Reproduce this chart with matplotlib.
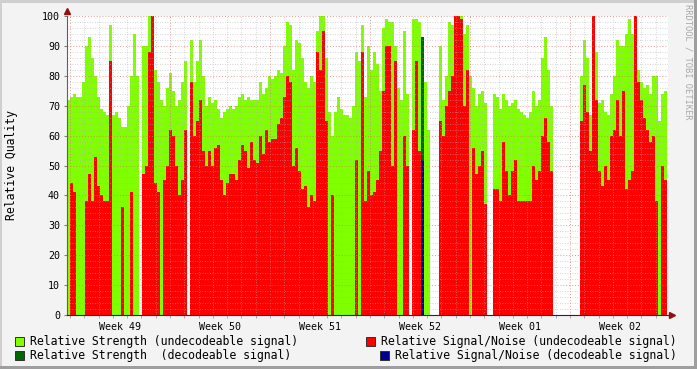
import numpy as np
import matplotlib
matplotlib.use("Agg")
import matplotlib.pyplot as plt
from matplotlib.patches import Rectangle

nan = np.nan

# relative strength, undecodeable signal (%), one value per ~5 hour step
strength_undec = [
    72, 73, 74, 73, 73, 78, 90, 93, 86, 80, 73, 69, 68, 67, 97, 67, 68, 66, 63, 63,
    70, 80, 94, 80, nan, 90, 90, 100, 95, 82, 78, 72, 70, 76, 81, 75, 70, 72, 78, 85,
    nan, 92, 78, 85, 92, 80, 70, 73, 71, 72, 69, 66, 68, 69, 70, 69, 70, 73, 74, 72,
    73, 72, 72, 72, 78, 74, 76, 80, 79, 80, 82, 81, 90, 98, 97, 82, 92, 91, 86, 78,
    76, 80, 78, 95, 100, 100, 86, 68, 60, 68, 73, 69, 67, 67, 66, 70, 88, 85, 97, 73,
    90, 82, 88, 84, 75, 96, 99, 98, 98, 90, 76, 72, 95, 74, nan, 99, 99, 98, 88, 78,
    62, nan, nan, nan, 90, 72, 80, 98, 97, 100, 100, 100, 94, 97, 80, 76, 70, 74, 75, 71,
    nan, nan, 74, 73, 69, 74, 72, 70, 71, 72, 69, 68, 67, 66, 68, 75, 70, 72, 86, 93,
    82, 70, nan, nan, nan, nan, nan, nan, nan, nan, nan, 80, 92, 86, 67, 85, 88, 71, 72, 68,
    67, 74, 80, 92, 90, 90, 94, 99, 94, 82, 82, 78, 76, 77, 74, 80, 80, 65, 74, 75,
]

# relative signal/noise, undecodeable signal (%)
snr_undec = [
    0, 44, 41, 0, 0, 0, 38, 47, 38, 53, 43, 40, 38, 38, 85, 0, 0, 0, 36, 0,
    0, 41, 0, 0, nan, 47, 50, 88, 100, 44, 41, 0, 45, 50, 62, 60, 50, 40, 45, 62,
    nan, 78, 60, 65, 72, 55, 50, 55, 50, 56, 57, 45, 40, 44, 47, 47, 45, 52, 57, 55,
    49, 58, 52, 51, 60, 54, 62, 58, 59, 59, 64, 66, 73, 80, 78, 50, 56, 48, 42, 43,
    36, 40, 38, 88, 82, 95, 65, 0, 40, 0, 0, 0, 0, 0, 0, 0, 52, 0, 88, 38,
    48, 40, 41, 45, 55, 75, 90, 90, 50, 85, 0, 0, 60, 50, nan, 62, 85, 55, 0, 0,
    0, nan, nan, nan, 65, 60, 70, 75, 80, 100, 100, 99, 70, 82, 0, 56, 47, 50, 55, 37,
    nan, nan, 42, 42, 38, 58, 48, 40, 48, 52, 38, 38, 38, 38, 38, 50, 45, 48, 60, 66,
    58, 48, nan, nan, nan, nan, nan, nan, nan, nan, nan, 65, 77, 68, 55, 100, 72, 48, 43, 50,
    45, 60, 62, 72, 60, 75, 42, 45, 48, 100, 78, 72, 66, 62, 58, 60, 38, 0, 50, 45,
]

# decodeable signal: only one short burst in week 52
strength_dec = [0] * 118 + [93] + [0] * 81
snr_dec = [0] * 118 + [52] + [0] * 81

week_labels = ["Week 49", "Week 50", "Week 51", "Week 52", "Week 01", "Week 02"]

step_days = 0.21      # width of one sample
week_start = 0.21     # first monday after the left edge
span_days = 42.07

W, H = 697, 369
MONO = "DejaVu Sans Mono"

fig = plt.figure(figsize=(W / 100, H / 100), dpi=100)
fig.patch.set_facecolor("#F3F3F3")

# rrdtool style 3d border
def px_rect(x, y, w, h, color):
    fig.patches.append(Rectangle((x / W, 1 - (y + h) / H), w / W, h / H,
                                 transform=fig.transFigure, facecolor=color,
                                 edgecolor="none", zorder=0))

px_rect(0, 0, W, 3, "#CFCFCF")
px_rect(0, 0, 2, H, "#CFCFCF")
px_rect(0, H - 3, W, 3, "#9E9E9E")
px_rect(W - 3, 0, 3, H, "#9E9E9E")

ax = fig.add_axes([67 / W, 1 - 315 / H, 601 / W, 299 / H])
ax.set_facecolor("white")

n = len(strength_undec)
x = np.arange(n) * step_days

def draw(vals, color, z):
    v = np.nan_to_num(np.array(vals, dtype=float))
    ax.bar(x, v, width=step_days, align="edge", color=color, linewidth=0,
           antialiased=False, zorder=z)

draw(strength_undec, "#80FF00", 1)
draw(snr_undec, "#FF0000", 2)
draw(strength_dec, "#006600", 3)
draw(snr_dec, "#000090", 4)

ax.set_xlim(0, span_days)
ax.set_ylim(0, 100)

# grid on top of the areas, like rrdtool
for yv in np.arange(2, 100.1, 2):
    if yv % 10 == 0:
        ax.axhline(yv, color="#E07070", lw=0.7, ls=(0, (1, 2)), alpha=0.7, zorder=5)
    else:
        ax.axhline(yv, color="#B0B0B0", lw=0.6, ls=(0, (1, 2)), alpha=0.7, zorder=5)

days = np.arange(week_start, span_days, 1.0)
for k, d in enumerate(days):
    if k % 7 == 0:
        ax.axvline(d, color="#E07070", lw=0.7, ls=(0, (1, 2)), alpha=0.7, zorder=5)
    else:
        ax.axvline(d, color="#B0B0B0", lw=0.6, ls=(0, (1, 2)), alpha=0.7, zorder=5)

ax.set_yticks(np.arange(0, 101, 10))
ax.set_yticklabels([str(v) for v in range(0, 101, 10)], family=MONO, fontsize=7.2)
ax.tick_params(axis="y", length=2, pad=3, color="#808080")

centers = week_start + 3.5 + 7 * np.arange(len(week_labels))
ax.set_xticks(centers)
ax.set_xticklabels(week_labels, family=MONO, fontsize=7.2)
ax.tick_params(axis="x", length=0, pad=5)
ax.set_xticks(days, minor=True)
ax.tick_params(axis="x", which="minor", length=2, color="#A0A0A0")

for s in ["top", "right"]:
    ax.spines[s].set_visible(False)
ax.spines["left"].set_color("#606060")
ax.spines["bottom"].set_color("#202060")
ax.spines["left"].set_zorder(6)
ax.spines["bottom"].set_zorder(6)

# axis arrows
ax.plot([0], [1.018], marker="^", color="#901010", markersize=4,
        transform=ax.transAxes, clip_on=False)
ax.plot([1.007], [0], marker=">", color="#901010", markersize=4,
        transform=ax.transAxes, clip_on=False)

fig.text(12 / W, 1 - 165 / H, "Relative Quality", rotation=90, ha="center",
         va="center", family=MONO, fontsize=8.3)

fig.text(688 / W, 1 - 4 / H, "RRDTOOL / TOBI OETIKER", rotation=270,
         ha="center", va="top", family=MONO, fontsize=6.3, color="#A8A8A8")

# legend
legend_rows = [
    (15, 341, "#80FF00", "Relative Strength (undecodeable signal)"),
    (15, 355, "#006600", "Relative Strength  (decodeable signal)"),
    (366, 341, "#FF0000", "Relative Signal/Noise (undecodeable signal)"),
    (380, 355, "#000090", "Relative Signal/Noise (decodeable signal)"),
]
for lx, ly, col, label in legend_rows:
    fig.patches.append(Rectangle((lx / W, 1 - (ly + 4.5) / H), 9 / W, 9 / H,
                                 transform=fig.transFigure, facecolor=col,
                                 edgecolor="#303030", linewidth=0.7, zorder=2))
    fig.text((lx + 15) / W, 1 - ly / H, label, ha="left", va="center",
             family=MONO, fontsize=8.3)

fig.savefig("out.png", dpi=100, facecolor=fig.get_facecolor())
